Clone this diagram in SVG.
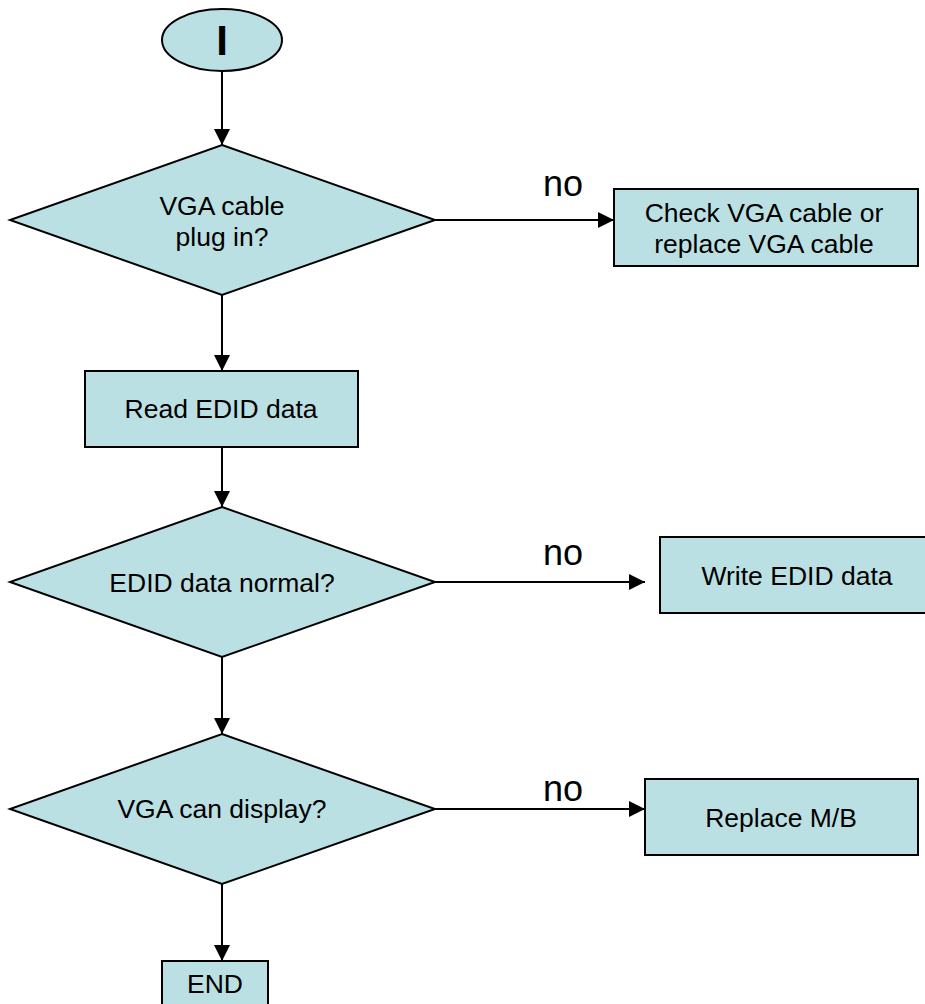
<svg xmlns="http://www.w3.org/2000/svg" width="925" height="1004" viewBox="0 0 925 1004">
<style>
.shape{fill:#BBE0E3;stroke:#000;stroke-width:2}
.t{font-family:"Liberation Sans",Arial,sans-serif;font-size:26.5px;fill:#000;text-anchor:middle}
.no{font-family:"Liberation Sans",Arial,sans-serif;font-size:36px;fill:#000;text-anchor:middle}
.c{stroke:#000;stroke-width:2;fill:none;marker-end:url(#ah)}
</style>
<defs>
<marker id="ah" markerUnits="userSpaceOnUse" markerWidth="16" markerHeight="16" viewBox="0 0 16 16" refX="16" refY="8" orient="auto">
<path d="M0,0 L16,8 L0,16 z" fill="#000"/>
</marker>
</defs>
<rect width="925" height="1004" fill="#fff"/>
<g id="connectors">
<line class="c" x1="222" y1="71" x2="222" y2="145"/>
<line class="c" x1="222" y1="295" x2="222" y2="371"/>
<line class="c" x1="222" y1="447" x2="222" y2="507"/>
<line class="c" x1="222" y1="657" x2="222" y2="734"/>
<line class="c" x1="222" y1="884" x2="222" y2="961"/>
<line class="c" x1="435" y1="220" x2="614" y2="220"/>
<line class="c" x1="435" y1="582" x2="645" y2="582"/>
<line class="c" x1="435" y1="809" x2="645" y2="809"/>
<text class="no" x="563" y="196">no</text>
<text class="no" x="563" y="565">no</text>
<text class="no" x="563" y="801">no</text>
</g>
<g id="start">
<ellipse class="shape" cx="222" cy="40" rx="60" ry="31"/>
<text class="t" x="222" y="55" style="font-size:42px;font-weight:bold">I</text>
</g>
<g id="d1">
<polygon class="shape" points="222,145 435,220 222,295 10,220"/>
<text class="t" x="222" y="215">VGA cable</text>
<text class="t" x="222" y="246">plug in?</text>
</g>
<g id="b1">
<rect class="shape" x="614" y="189" width="304" height="77"/>
<text class="t" x="764" y="222">Check VGA cable or</text>
<text class="t" x="764" y="253">replace VGA cable</text>
</g>
<g id="read">
<rect class="shape" x="85" y="371" width="273" height="76"/>
<text class="t" x="221" y="418">Read EDID data</text>
</g>
<g id="d2">
<polygon class="shape" points="222,507 435,582 222,657 10,582"/>
<text class="t" x="222" y="592">EDID data normal?</text>
</g>
<g id="b2">
<rect class="shape" x="660" y="537" width="270" height="76"/>
<text class="t" x="797" y="585">Write EDID data</text>
</g>
<g id="d3">
<polygon class="shape" points="222,734 435,809 222,884 10,809"/>
<text class="t" x="222" y="818">VGA can display?</text>
</g>
<g id="b3">
<rect class="shape" x="645" y="779" width="273" height="76"/>
<text class="t" x="781" y="827">Replace M/B</text>
</g>
<g id="end">
<rect class="shape" x="162" y="961" width="106" height="50"/>
<text class="t" x="215" y="993">END</text>
</g>
</svg>
